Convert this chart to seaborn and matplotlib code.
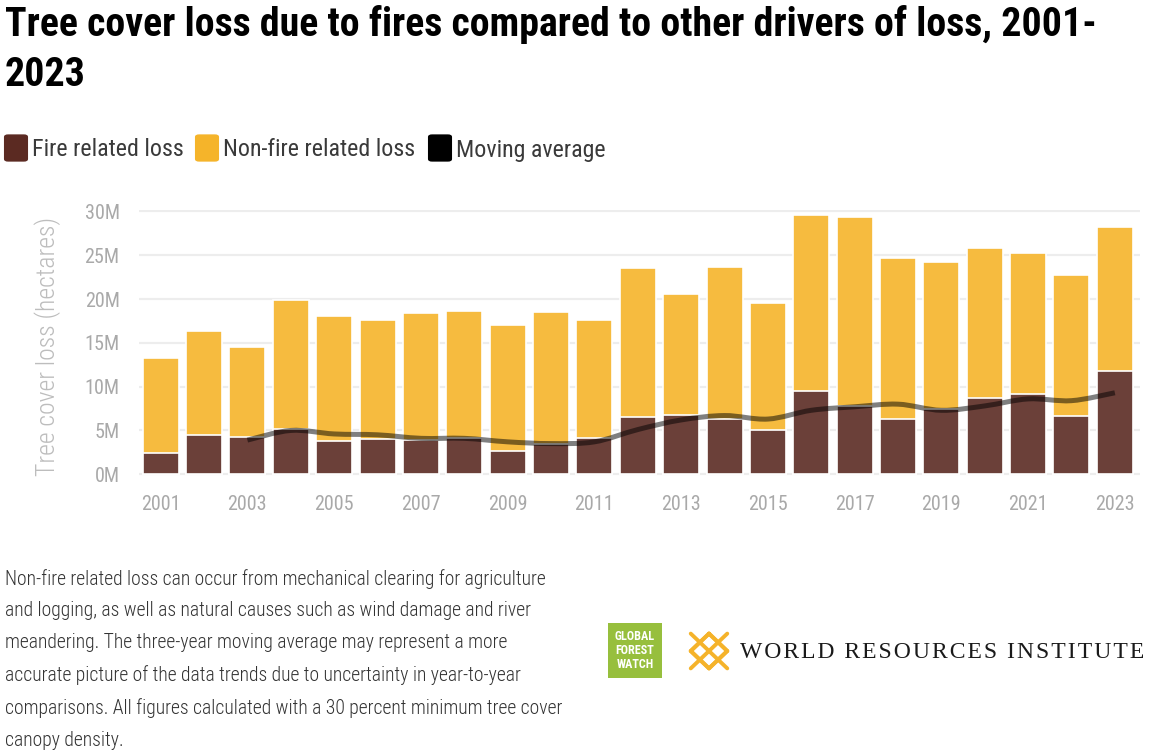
import numpy as np
import pandas as pd
import seaborn as sns
import matplotlib.pyplot as plt
from matplotlib.patches import FancyBboxPatch, Rectangle, PathPatch
from matplotlib.path import Path

# values, million hectares
years = list(range(2001, 2024))
fire_loss = [2.4, 4.5, 4.3, 5.2, 3.8, 4.0, 3.9, 4.1, 2.7, 3.5, 4.1, 6.5,
             6.8, 6.3, 5.1, 9.5, 7.8, 6.3, 7.4, 8.7, 9.2, 6.6, 11.8]
total_loss = [13.3, 16.4, 14.5, 19.9, 18.1, 17.6, 18.4, 18.6, 17.0, 18.5, 17.6, 23.5,
              20.6, 23.7, 19.6, 29.6, 29.4, 24.7, 24.2, 25.8, 25.3, 22.8, 28.2]
avg_years = list(range(2003, 2024))
moving_avg = [3.9, 5.0, 4.6, 4.5, 4.1, 4.1, 3.7, 3.5, 3.7, 5.1, 6.2, 6.7,
              6.3, 7.3, 7.7, 8.0, 7.3, 7.8, 8.6, 8.4, 9.3]
ytick_vals = [0, 5, 10, 15, 20, 25, 30]
ytick_labels = ["0M", "5M", "10M", "15M", "20M", "25M", "30M"]
xtick_years = list(range(2001, 2024, 2))

df = pd.DataFrame({"year": years, "fire": fire_loss, "total": total_loss})

W, H = 1154, 751
sns.set_theme(style="white")
plt.rcParams["font.family"] = ["Roboto Condensed", "DejaVu Sans"]

fig = plt.figure(figsize=(W / 100, H / 100), dpi=100)

def fx(x):
    return x / W

def fy(y):
    return 1 - y / H

ax = fig.add_axes([fx(139), fy(476), fx(1140) - fx(139), fy(209.7) - fy(476)])
sns.barplot(data=df, x="year", y="total", native_scale=True, width=0.83,
            color="#f6bb3f", saturation=1, edgecolor="white", linewidth=1.2, ax=ax)
sns.barplot(data=df, x="year", y="fire", native_scale=True, width=0.83,
            color="#6b4039", saturation=1, edgecolor="white", linewidth=1.2, ax=ax)

# moving average drawn as a smooth curve through the points (Catmull-Rom)
pts = np.column_stack([avg_years, moving_avg]).astype(float)
ext = np.vstack([pts[0], pts, pts[-1]])
verts, codes = [pts[0]], [Path.MOVETO]
for i in range(1, len(ext) - 2):
    p0, p1, p2, p3 = ext[i - 1], ext[i], ext[i + 1], ext[i + 2]
    verts += [p1 + (p2 - p0) / 6, p2 - (p3 - p1) / 6, p2]
    codes += [Path.CURVE4] * 3
ax.add_patch(PathPatch(Path(verts, codes), fill=False, ec=(0, 0, 0, 0.5), lw=3.6,
                       capstyle="butt", joinstyle="round"))

ax.set_xlim(2000.5, 2023.58)
ax.set_ylim(-0.2, 30.2)
ax.set_yticks(ytick_vals, ytick_labels)
ax.set_xticks(xtick_years, [str(y) for y in xtick_years])
ax.grid(axis="y", color="#ededed", lw=1.6)
ax.set_axisbelow(True)
sns.despine(ax=ax, left=True, bottom=True)
ax.tick_params(axis="both", length=0, colors="#a9a9a9", labelsize=14.5)
ax.tick_params(axis="y", pad=14)
ax.tick_params(axis="x", pad=13.5)
ax.set_xlabel("")
ax.set_ylabel("Tree cover loss (hectares)", fontsize=18.5, color="#bdbdbd",
              fontweight="light")
ax.yaxis.set_label_coords(-0.078, 0.486)

# title
fig.text(fx(5), fy(25), "Tree cover loss due to fires compared to other drivers of loss, 2001-",
         fontsize=28.7, fontweight="bold", color="black", va="center")
fig.text(fx(5), fy(75), "2023", fontsize=28.7, fontweight="bold", color="black", va="center")

# legend
leg = [("Fire related loss", "#5b2a22", 5), ("Non-fire related loss", "#f5b42a", 196),
       ("Moving average", "#000000", 429)]
for label, col, x0 in leg:
    fig.patches.append(FancyBboxPatch((fx(x0 + 3), fy(159)), fx(16), fy(137) - fy(159),
                                      boxstyle="round,pad=0.0035", fc=col, ec="none",
                                      transform=fig.transFigure, figure=fig))
    fig.text(fx(x0 + 27), fy(150), label, fontsize=17.3, color="#3a3a3a", va="center")

# footnote
note = ("Non-fire related loss can occur from mechanical clearing for agriculture\n"
        "and logging, as well as natural causes such as wind damage and river\n"
        "meandering. The three-year moving average may represent a more\n"
        "accurate picture of the data trends due to uncertainty in year-to-year\n"
        "comparisons. All figures calculated with a 30 percent minimum tree cover\n"
        "canopy density.")
fig.text(fx(5), fy(569), note, fontsize=14.1, color="#333333", va="top", linespacing=1.83,
         fontweight="light")

# logos
fig.patches.append(Rectangle((fx(608), fy(678)), fx(54), fy(623) - fy(678), fc="#97bf3d",
                             ec="none", transform=fig.transFigure, figure=fig))
for i, word in enumerate(["GLOBAL", "FOREST", "WATCH"]):
    fig.text(fx(635), fy(637 + i * 14), word, fontsize=8.7, fontweight="bold",
             color="white", ha="center", va="center")

lax = fig.add_axes([fx(688), fy(671), fx(42), fy(631) - fy(671)])
lax.set_xlim(-1.15, 1.15)
lax.set_ylim(-1.15, 1.15)
lax.axis("off")
for k in [-0.5, 0.0, 0.5]:
    t = np.array([-1 + abs(k), 1 - abs(k)])
    lax.plot(t + k, t - k, color="#f5b32a", lw=2.8, solid_capstyle="round")
    lax.plot(t + k, -(t - k), color="#f5b32a", lw=2.8, solid_capstyle="round")
lax.plot([0, 1, 0, -1, 0], [1, 0, -1, 0, 1], color="#f5b32a", lw=2.8)

wri = "\u200a".join("WORLD RESOURCES INSTITUTE")
fig.text(fx(740), fy(652), wri, fontsize=17, color="#1a1a1a",
         family=["Liberation Serif", "DejaVu Serif"], va="center")

fig.savefig("out.png", dpi=100)
